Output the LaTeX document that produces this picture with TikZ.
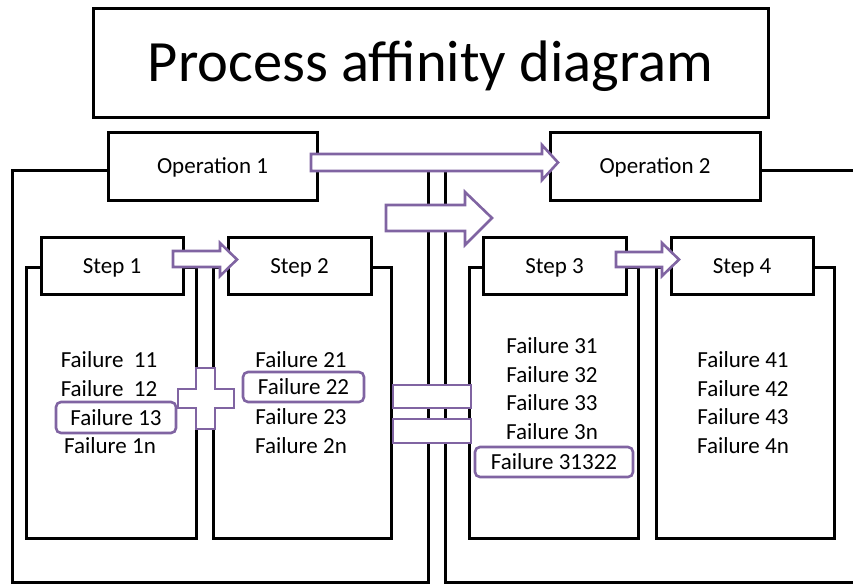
\documentclass[tikz,border=0pt]{standalone}
\usepackage{fontspec}
\setmainfont{Carlito}
\definecolor{hlpurple}{HTML}{8064A2}
\begin{document}
\begin{tikzpicture}[x=1pt,y=-1pt,
  framebox/.style={draw=black,line width=3pt},
  labelbox/.style={draw=black,line width=3pt,fill=white,inner sep=0pt,
    text height=15pt,text depth=0pt,font=\fontsize{23}{28}\selectfont},
  fail/.style={anchor=base,inner sep=0pt,font=\fontsize{23}{28}\selectfont},
  hlbox/.style={draw=hlpurple,line width=2.6pt,rounded corners=5pt,fill=white,
    inner sep=0pt,text height=15pt,text depth=0pt,font=\fontsize{23}{28}\selectfont},
  blockshape/.style={draw=hlpurple,line width=2.6pt,fill=white,line join=miter}]
\path[use as bounding box] (0,0) rectangle (853,584);
\clip (0,0) rectangle (853,584);

% operation frames
\draw[framebox] (12,170) rectangle (428,582);
\draw[framebox] (445,170) rectangle (880,582);
% step frames
\draw[framebox] (26,267) rectangle (196,538);
\draw[framebox] (213,267) rectangle (391,538);
\draw[framebox] (469,267) rectangle (638,538);
\draw[framebox] (656,267) rectangle (834,538);

% title
\node[labelbox,minimum width=675pt,minimum height=109pt,text height=37pt,
  font=\fontsize{58.5}{70}\selectfont] (title) at (430.5,62.5) {Process affinity diagram};

% operation and step labels
\node[labelbox,minimum width=209pt,minimum height=68pt] (op1) at (212.5,166) {Operation 1};
\node[labelbox,minimum width=210pt,minimum height=68pt] (op2) at (655,166) {Operation 2};
\node[labelbox,minimum width=142pt,minimum height=57pt] (s1) at (112,265.5) {Step 1};
\node[labelbox,minimum width=143pt,minimum height=57pt] (s2) at (299.5,265.5) {Step 2};
\node[labelbox,minimum width=143pt,minimum height=57pt] (s3) at (554.5,265.5) {Step 3};
\node[labelbox,minimum width=142pt,minimum height=57pt] (s4) at (742,265.5) {Step 4};

% block arrows
\draw[blockshape] (311,154) -- (542,154) -- (542,145) -- (558,162.5) -- (542,180)
  -- (542,171) -- (311,171) -- cycle;
\draw[blockshape] (386,205) -- (465,205) -- (465,192) -- (492,218) -- (465,245)
  -- (465,231) -- (386,231) -- cycle;
\draw[blockshape] (173,251) -- (220,251) -- (220,243) -- (237,259.5) -- (220,276)
  -- (220,267) -- (173,267) -- cycle;
\draw[blockshape] (616,252) -- (662,252) -- (662,243) -- (679,259.5) -- (662,276)
  -- (662,267) -- (616,267) -- cycle;

% plus sign
\draw[blockshape] (196,368) -- (215,368) -- (215,389) -- (234,389) -- (234,408)
  -- (215,408) -- (215,429) -- (196,429) -- (196,408) -- (178,408) -- (178,389)
  -- (196,389) -- cycle;
% equals sign
\draw[blockshape] (393,385) rectangle (471,408);
\draw[blockshape] (393,419) rectangle (471,443);

% step 1 failures
\node[fail] (f11) at (109,367) {Failure\ \ 11};
\node[fail] (f12) at (109,396) {Failure\ \ 12};
\node[hlbox,minimum width=120pt,minimum height=31pt] (f13) at (116,417.5) {Failure 13};
\node[fail] (f1n) at (110,453) {Failure 1n};

% step 2 failures
\node[fail] (f21) at (301,367) {Failure 21};
\node[hlbox,minimum width=121pt,minimum height=30pt] (f22) at (303.5,387) {Failure 22};
\node[fail] (f23) at (301,424) {Failure 23};
\node[fail] (f2n) at (301,453) {Failure 2n};

% step 3 failures
\node[fail] (f31) at (552,353) {Failure 31};
\node[fail] (f32) at (552,382) {Failure 32};
\node[fail] (f33) at (552,410) {Failure 33};
\node[fail] (f3n) at (552,439) {Failure 3n};
\node[hlbox,minimum width=158pt,minimum height=30pt] (f3x) at (554,462) {Failure 31322};

% step 4 failures
\node[fail] (f41) at (743,367) {Failure 41};
\node[fail] (f42) at (743,396) {Failure 42};
\node[fail] (f43) at (743,424) {Failure 43};
\node[fail] (f4n) at (743,453) {Failure 4n};
\end{tikzpicture}
\end{document}
